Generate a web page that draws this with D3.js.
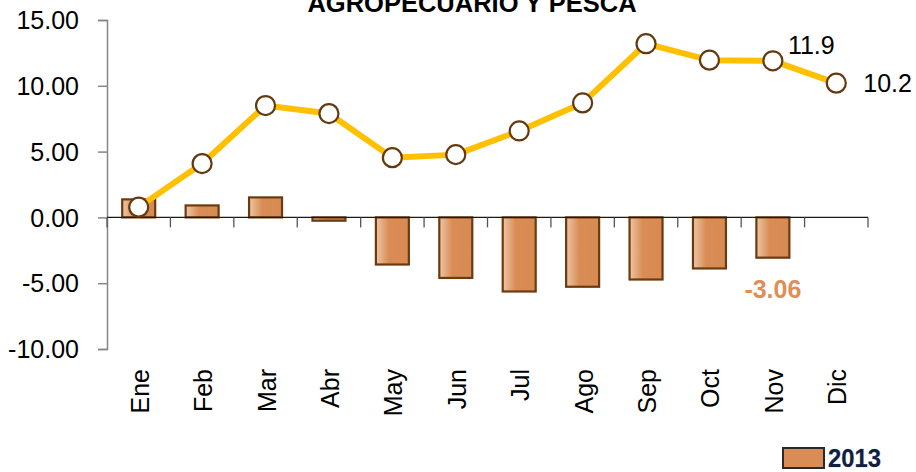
<!DOCTYPE html>
<html>
<head>
<meta charset="utf-8">
<script src="https://cdn.jsdelivr.net/npm/d3@7"></script>
<style>
  body { margin: 0; background: #fff; }
  svg { display: block; }
</style>
</head>
<body>
<div id="wrapper"></div>
<script>
const months = ["Ene", "Feb", "Mar", "Abr", "May", "Jun", "Jul", "Ago", "Sep", "Oct", "Nov", "Dic"];
const bars2013 = [1.37, 0.91, 1.52, -0.25, -3.58, -4.6, -5.63, -5.27, -4.72, -3.88, -3.06, null];
const line2014 = [0.78, 4.09, 8.5, 7.89, 4.54, 4.77, 6.57, 8.7, 13.2, 11.95, 11.9, 10.2];
const yTicks = [15, 10, 5, 0, -5, -10];
const title = "AGROPECUARIO Y PESCA";
const legendLabel = "2013";

const createChart = () => {
  const dimensions = {
    width: 916,
    height: 472,
    margin: { top: 20, right: 48, bottom: 123, left: 107 }
  };
  dimensions.boundedWidth = dimensions.width - dimensions.margin.left - dimensions.margin.right;
  dimensions.boundedHeight = dimensions.height - dimensions.margin.top - dimensions.margin.bottom;

  const font = "'Liberation Sans', Arial, sans-serif";

  const wrapper = d3.select("#wrapper")
    .append("svg")
    .attr("width", dimensions.width)
    .attr("height", dimensions.height);

  const defs = wrapper.append("defs");
  const grad = defs.append("linearGradient")
    .attr("id", "barGrad")
    .attr("x1", "0%").attr("x2", "100%").attr("y1", "0%").attr("y2", "0%");
  grad.append("stop").attr("offset", "0%").attr("stop-color", "#EFC6A6");
  grad.append("stop").attr("offset", "40%").attr("stop-color", "#D98C55");
  grad.append("stop").attr("offset", "100%").attr("stop-color", "#D78A52");

  const bounds = wrapper.append("g")
    .attr("transform", `translate(${dimensions.margin.left},${dimensions.margin.top})`);

  // scales
  const xScale = d3.scaleBand()
    .domain(months)
    .range([0, dimensions.boundedWidth]);

  const yScale = d3.scaleLinear()
    .domain([-10, 15])
    .range([dimensions.boundedHeight, 0]);

  const xCenter = (d) => xScale(d) + xScale.bandwidth() / 2;

  // y axis (hyphen minus, like the original)
  const yAxis = bounds.append("g")
    .call(d3.axisLeft(yScale).tickValues(yTicks).tickFormat((d) => d.toFixed(2)).tickSize(9).tickPadding(19));
  yAxis.select(".domain").attr("stroke", "#868686").attr("stroke-width", 1.5);
  yAxis.selectAll(".tick line").attr("stroke", "#868686").attr("stroke-width", 1.5);
  yAxis.selectAll(".tick text")
    .attr("font-family", font)
    .attr("font-size", 25)
    .attr("fill", "#000")
    .attr("dy", "0.35em");

  // bars
  const barW = xScale.bandwidth() * 0.52;
  bounds.append("g")
    .selectAll("rect")
    .data(months.map((m, i) => ({ m, v: bars2013[i] })).filter((d) => d.v !== null))
    .join("rect")
    .attr("x", (d) => xCenter(d.m) - barW / 2)
    .attr("width", barW)
    .attr("y", (d) => yScale(Math.max(0, d.v)))
    .attr("height", (d) => Math.abs(yScale(d.v) - yScale(0)))
    .attr("fill", "url(#barGrad)")
    .attr("stroke", "#6B3A0E")
    .attr("stroke-width", 2.2);

  // x axis at zero
  const xAxisGroup = bounds.append("g")
    .attr("transform", `translate(0,${yScale(0)})`);
  xAxisGroup.append("line")
    .attr("x1", 0).attr("x2", dimensions.boundedWidth)
    .attr("stroke", "#1a1a1a").attr("stroke-width", 1.3);
  xAxisGroup.selectAll(".tk")
    .data(d3.range(months.length + 1))
    .join("line")
    .attr("class", "tk")
    .attr("x1", (i) => i * xScale.step())
    .attr("x2", (i) => i * xScale.step())
    .attr("y1", 0).attr("y2", 10)
    .attr("stroke", "#555").attr("stroke-width", 1.3);

  // month labels, rotated
  bounds.append("g")
    .selectAll("text")
    .data(months)
    .join("text")
    .attr("transform", (d) => `translate(${xCenter(d) + 10},${yScale(-10) + 20}) rotate(-90)`)
    .attr("text-anchor", "end")
    .attr("font-family", font)
    .attr("font-size", 25)
    .attr("fill", "#000")
    .text((d) => d);

  // line
  const lineGen = d3.line()
    .x((d, i) => xCenter(months[i]))
    .y((d) => yScale(d));

  bounds.append("path")
    .attr("d", lineGen(line2014))
    .attr("fill", "none")
    .attr("stroke", "#FFC000")
    .attr("stroke-width", 6)
    .attr("stroke-linejoin", "round");

  bounds.append("g")
    .selectAll("circle")
    .data(line2014)
    .join("circle")
    .attr("cx", (d, i) => xCenter(months[i]))
    .attr("cy", (d) => yScale(d))
    .attr("r", 9.5)
    .attr("fill", "#fff")
    .attr("stroke", "#633A10")
    .attr("stroke-width", 2.2);

  // data labels
  bounds.append("text")
    .attr("x", xCenter("Nov") + 15)
    .attr("y", yScale(line2014[10]) - 7)
    .attr("font-family", font)
    .attr("font-size", 25)
    .attr("fill", "#000")
    .text(line2014[10].toFixed(1));

  bounds.append("text")
    .attr("x", xCenter("Dic") + 27)
    .attr("y", yScale(line2014[11]) + 9)
    .attr("font-family", font)
    .attr("font-size", 25)
    .attr("fill", "#000")
    .text(line2014[11].toFixed(1));

  bounds.append("text")
    .attr("x", xCenter("Nov"))
    .attr("y", yScale(bars2013[10]) + 40)
    .attr("text-anchor", "middle")
    .attr("font-family", font)
    .attr("font-weight", "bold")
    .attr("font-size", 25)
    .attr("fill", "#E08D57")
    .text(bars2013[10].toFixed(2));

  // title (partially cut off at top, as in the original)
  wrapper.append("text")
    .attr("x", 472)
    .attr("y", 12)
    .attr("text-anchor", "middle")
    .attr("font-family", font)
    .attr("font-weight", "bold")
    .attr("font-size", 25.5)
    .attr("fill", "#000")
    .text(title);

  // legend
  const legend = wrapper.append("g").attr("transform", "translate(783,448)");
  legend.append("rect")
    .attr("width", 41).attr("height", 20)
    .attr("fill", "#D98C55")
    .attr("stroke", "#2a2a2a")
    .attr("stroke-width", 2);
  legend.append("text")
    .attr("x", 45)
    .attr("y", 19)
    .attr("font-family", font)
    .attr("font-weight", "bold")
    .attr("font-size", 26)
    .attr("textLength", 53)
    .attr("lengthAdjust", "spacingAndGlyphs")
    .attr("fill", "#14203a")
    .attr("stroke", "#9fc3ea")
    .attr("stroke-width", 0.6)
    .attr("paint-order", "stroke")
    .text(legendLabel);
};

createChart();
</script>
</body>
</html>
